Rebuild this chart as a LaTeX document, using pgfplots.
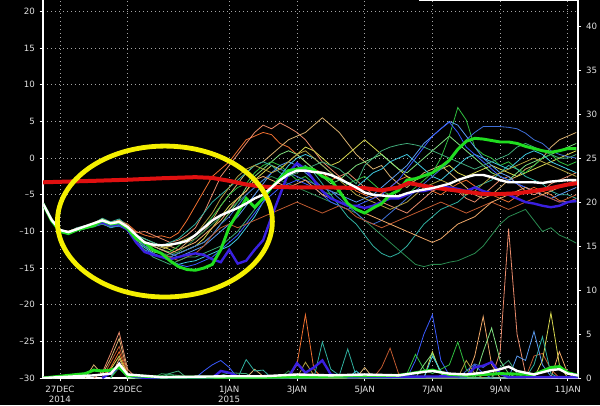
\documentclass[border=0pt]{standalone}
\usepackage{pgfplots}
\usepackage{pgfplotstable}
\pgfplotsset{compat=1.18}
\usepackage{fontspec}
\setmainfont{DejaVu Sans}
\definecolor{lab}{RGB}{225,225,225}
\definecolor{gridc}{RGB}{165,165,165}
\definecolor{c1}{HTML}{F07030}
\definecolor{c2}{HTML}{E88A6A}
\definecolor{c3}{HTML}{D8B070}
\definecolor{c4}{HTML}{D8D850}
\definecolor{c5}{HTML}{80E080}
\definecolor{c6}{HTML}{30C040}
\definecolor{c7}{HTML}{2A8A50}
\definecolor{c8}{HTML}{30B0A0}
\definecolor{c9}{HTML}{40C8E0}
\definecolor{c10}{HTML}{5A9AF0}
\definecolor{c11}{HTML}{3A5AFF}
\definecolor{c12}{HTML}{4070D8}
\definecolor{c13}{HTML}{C05A30}
\definecolor{c14}{HTML}{B0A040}
\definecolor{c15}{HTML}{40A878}
\definecolor{c16}{HTML}{F0A868}
\definecolor{thgreen}{HTML}{20DD20}
\definecolor{thblue}{HTML}{3A20E0}
\definecolor{thred}{HTML}{E01010}
\definecolor{ylw}{RGB}{245,240,0}

\pgfplotstableread[header=false]{
d -0.5 -0.25 0 0.25 0.5 0.75 1 1.25 1.5 1.75 2 2.25 2.5 2.75 3 3.25 3.5 3.75 4 4.25 4.5 4.75 5 5.25 5.5 5.75 6 6.25 6.5 6.75 7 7.25 7.5 7.75 8 8.25 8.5 8.75 9 9.25 9.5 9.75 10 10.25 10.5 10.75 11 11.25 11.5 11.75 12 12.25 12.5 12.75 13 13.25 13.5 13.75 14 14.25 14.5 14.75 15 15.25
m1 -6.2 -8.2 -9.8 -10.0 -9.6 -9.2 -9.0 -8.4 -8.8 -8.5 -9.0 -10.0 -10.5 -10.8 -10.6 -10.9 -10.2 -8.5 -6.5 -4.5 -2.5 -1.5 -0.5 1.0 2.5 3.0 3.5 3.2 2.0 1.5 0.5 -0.5 -1.5 -2.0 -3.0 -2.5 -3.5 -4.5 -5.0 -5.5 -4.8 -4.0 -3.0 -2.5 -3.5 -4.0 -4.5 -5.0 -4.2 -3.5 -3.0 -3.8 -4.5 -5.0 -5.5 -6.0 -5.2 -4.5 -4.0 -4.5 -5.0 -5.8 -6.0 -5.5
m2 -6.2 -8.3 -10.0 -10.2 -9.5 -9.3 -8.8 -8.3 -8.9 -8.4 -9.2 -10.2 -10.0 -10.5 -11.0 -11.5 -11.2 -10.5 -9.5 -7.5 -5.0 -2.5 -1.0 0.5 2.0 3.5 4.5 4.0 4.8 4.2 3.5 2.5 1.0 -0.5 -1.5 -2.5 -2.0 -3.0 -4.0 -5.0 -6.0 -6.5 -7.0 -7.5 -6.5 -5.5 -4.5 -4.0 -3.5 -4.5 -5.5 -6.0 -5.0 -4.0 -3.0 -2.5 -3.5 -4.5 -5.0 -4.5 -3.5 -3.0 -2.5 -2.0
m3 -6.2 -8.4 -10.1 -10.3 -9.8 -9.6 -9.3 -8.8 -9.2 -8.9 -9.5 -11.0 -11.5 -12.0 -12.5 -12.0 -12.5 -11.5 -11.0 -10.0 -8.5 -6.5 -5.0 -3.5 -2.0 -1.0 -0.5 0.5 1.5 2.5 3.0 3.5 4.5 5.5 4.5 3.5 2.0 0.5 -0.5 -1.5 -1.0 -2.5 -3.5 -4.0 -3.0 -2.0 -1.5 -1.0 -2.0 -3.0 -4.0 -5.0 -5.5 -5.0 -4.0 -3.0 -2.5 -1.5 -1.0 0.0 1.5 2.5 3.0 3.5
m4 -6.2 -8.3 -9.9 -10.0 -9.6 -9.4 -9.0 -8.5 -8.8 -8.6 -9.3 -10.5 -11.0 -11.5 -12.0 -12.5 -13.0 -12.5 -12.0 -11.0 -9.5 -8.0 -6.5 -5.5 -4.5 -3.0 -2.0 -1.0 -1.5 -0.5 0.5 1.5 1.0 0.0 -1.0 -0.5 0.5 1.5 2.5 1.5 0.5 -0.5 -1.5 -2.5 -3.0 -2.5 -2.0 -1.5 -1.0 -2.0 -2.5 -2.0 -1.5 -1.0 -1.5 -2.0 -2.5 -2.0 -1.5 -1.0 -0.5 0.0 0.5 1.0
m5 -6.2 -8.4 -10.0 -10.2 -9.8 -9.5 -9.2 -8.9 -9.3 -9.0 -9.6 -11.2 -12.0 -12.8 -13.0 -13.5 -13.0 -12.5 -12.0 -11.5 -10.5 -9.0 -7.5 -6.0 -4.0 -2.5 -1.5 -0.5 0.5 1.0 0.5 -0.5 -1.5 -2.5 -3.5 -3.0 -2.0 -1.0 -0.5 0.0 0.5 -0.5 -1.5 -2.0 -1.0 0.0 1.0 2.0 3.0 2.0 1.0 0.0 -1.0 -2.0 -2.5 -3.0 -2.0 -1.0 -0.5 0.0 0.5 1.0 1.5 2.0
m6 -6.2 -8.3 -9.8 -10.1 -9.7 -9.3 -9.1 -8.7 -9.1 -8.8 -9.4 -11.0 -11.8 -12.0 -12.5 -12.8 -12.0 -11.0 -10.5 -9.5 -8.0 -6.5 -5.0 -4.0 -3.5 -2.0 -1.0 -0.5 -1.0 -2.0 -3.0 -2.5 -3.5 -4.5 -5.0 -4.5 -3.5 -3.0 -2.5 -3.5 -4.5 -5.0 -5.5 -5.0 -4.0 -3.0 -2.0 0.0 3.0 6.9 5.2 1.5 0.5 0.0 -1.0 -0.5 -1.5 -2.0 -1.0 0.0 0.5 -0.5 -1.0 -0.5
m7 -6.2 -8.4 -10.1 -10.2 -9.9 -9.6 -9.4 -9.0 -9.4 -9.1 -9.5 -11.5 -12.0 -12.5 -13.0 -13.2 -12.8 -12.0 -11.0 -10.0 -9.0 -8.0 -7.0 -6.0 -5.0 -4.0 -3.0 -2.5 -3.0 -3.5 -4.0 -4.5 -5.0 -5.5 -6.0 -6.5 -7.0 -7.5 -8.5 -9.5 -10.5 -11.5 -12.5 -13.5 -14.5 -14.8 -14.5 -14.5 -14.2 -14.0 -13.5 -13.0 -12.0 -10.5 -9.0 -8.0 -7.5 -7.0 -8.5 -10.0 -9.5 -10.5 -11.0 -11.6
m8 -6.2 -8.2 -9.8 -10.0 -9.5 -9.2 -8.9 -8.2 -8.7 -8.3 -9.2 -10.5 -11.0 -11.5 -12.0 -11.5 -11.0 -10.0 -9.0 -7.5 -6.0 -5.0 -4.0 -3.0 -2.0 -1.0 -0.5 -1.0 -2.0 -2.5 -1.5 -1.0 -2.0 -3.5 -5.0 -6.5 -8.0 -9.0 -10.5 -12.0 -13.0 -13.5 -13.0 -12.0 -10.5 -9.0 -8.0 -7.0 -6.5 -6.0 -5.0 -4.0 -3.5 -3.0 -2.0 -1.0 -1.5 -2.5 -3.0 -3.5 -4.5 -5.0 -5.0 -5.5
m9 -6.2 -8.4 -10.0 -10.3 -9.9 -9.6 -9.3 -8.9 -9.5 -9.2 -9.7 -11.5 -12.2 -13.0 -13.5 -14.0 -14.5 -14.2 -14.0 -13.5 -13.0 -12.5 -12.0 -11.0 -9.5 -8.0 -6.0 -4.0 -2.5 -1.0 0.0 0.5 0.0 -1.0 -2.0 -3.0 -3.5 -4.0 -3.0 -2.0 -1.5 -0.5 0.0 0.5 -0.5 -1.5 -2.5 -3.0 -2.0 -1.0 0.0 0.5 0.0 -0.5 -1.0 -1.5 -0.5 0.5 1.0 0.5 -0.5 -1.0 -1.5 -2.0
m10 -6.2 -8.3 -9.9 -10.1 -9.7 -9.4 -9.1 -8.6 -9.0 -8.8 -9.4 -10.8 -11.5 -12.0 -12.5 -13.0 -13.5 -13.0 -12.5 -12.0 -11.0 -10.0 -9.0 -8.0 -6.5 -5.0 -3.5 -2.0 -1.0 -0.5 -1.0 -2.0 -3.0 -4.0 -4.5 -5.0 -5.5 -6.0 -5.5 -5.0 -4.0 -3.0 -2.0 -1.0 0.5 2.0 3.0 4.0 5.0 4.5 3.0 1.5 0.0 -1.0 -2.0 -2.5 -3.5 -4.0 -4.5 -5.0 -5.5 -5.0 -4.5 -4.0
m11 -6.2 -8.4 -10.0 -10.2 -9.8 -9.5 -9.3 -9.0 -9.4 -9.3 -9.8 -11.5 -12.5 -13.0 -13.5 -14.0 -14.5 -14.8 -14.5 -14.0 -13.5 -12.5 -11.5 -10.5 -9.0 -7.5 -6.0 -5.0 -4.0 -3.5 -3.0 -3.5 -4.0 -5.0 -6.0 -6.5 -7.0 -6.5 -6.0 -5.5 -5.0 -4.0 -3.0 -1.5 0.0 1.5 3.0 4.0 4.9 3.5 1.5 0.5 -0.5 -1.5 -2.5 -3.0 -3.5 -4.0 -4.5 -5.0 -5.5 -6.0 -6.0 -6.0
m12 -6.2 -8.3 -9.9 -10.1 -9.7 -9.4 -9.2 -8.8 -9.2 -9.0 -9.6 -11.0 -12.0 -12.5 -13.0 -13.5 -13.0 -12.5 -12.0 -11.5 -10.5 -9.0 -8.0 -6.5 -5.0 -4.0 -3.0 -2.0 -1.5 -2.0 -2.5 -3.0 -3.5 -4.0 -4.5 -5.5 -6.5 -7.5 -8.5 -9.0 -8.5 -7.5 -6.5 -5.5 -4.5 -3.5 -2.5 -1.5 -0.5 1.0 2.5 3.5 4.3 4.3 4.3 4.2 4.0 3.4 2.5 2.0 1.0 0.5 0.2 0.0
m13 -6.2 -8.2 -9.8 -10.0 -9.6 -9.3 -9.0 -8.5 -8.9 -8.6 -9.3 -10.8 -11.5 -12.5 -13.0 -13.5 -14.0 -13.5 -13.0 -12.0 -10.5 -9.5 -9.0 -9.5 -9.0 -8.5 -8.0 -7.5 -7.0 -6.5 -6.0 -6.5 -7.0 -7.5 -7.0 -6.5 -7.0 -8.0 -8.5 -9.0 -9.5 -9.0 -8.5 -8.0 -7.5 -7.0 -6.5 -6.0 -6.5 -7.0 -7.5 -7.0 -6.5 -6.0 -6.5 -7.0 -6.5 -6.0 -5.5 -5.0 -5.5 -6.0 -5.5 -5.0
m14 -6.2 -8.3 -10.0 -10.1 -9.7 -9.4 -9.1 -8.6 -9.0 -8.7 -9.5 -11.0 -11.5 -11.8 -12.2 -12.0 -11.5 -11.0 -10.5 -9.0 -7.5 -5.5 -4.0 -2.5 -1.5 -1.0 -1.5 -2.0 -1.5 -0.5 0.5 1.0 0.0 -1.0 -2.0 -3.0 -4.0 -5.0 -5.5 -6.0 -6.5 -7.0 -6.5 -6.0 -5.0 -4.0 -3.5 -3.0 -3.5 -4.5 -5.0 -4.5 -3.5 -2.5 -2.0 -1.5 -1.0 -0.5 0.0 -0.5 -1.0 -1.5 -2.0 -2.5
m15 -6.2 -8.4 -10.1 -10.3 -9.9 -9.6 -9.3 -9.0 -9.4 -9.2 -9.5 -11.5 -12.5 -13.5 -14.0 -14.5 -14.0 -13.5 -13.5 -13.0 -12.5 -12.0 -11.0 -10.0 -8.5 -7.0 -5.5 -4.0 -3.0 -2.5 -2.0 -1.5 -1.0 -0.5 -1.0 -1.5 -2.5 -3.5 -1.0 0.0 1.0 1.5 1.8 2.0 1.8 1.5 1.0 0.5 0.0 -0.5 -1.0 -1.5 -1.0 -0.5 0.0 0.5 1.5 2.0 1.5 1.0 0.5 0.0 0.0 0.5
m16 -6.2 -8.2 -9.8 -10.0 -9.6 -9.3 -8.9 -8.3 -8.8 -8.5 -9.2 -10.5 -11.5 -12.0 -12.5 -13.0 -12.5 -12.0 -11.5 -10.5 -9.5 -8.5 -7.0 -5.5 -4.5 -3.0 -2.5 -3.0 -3.5 -4.0 -3.5 -3.0 -4.0 -5.0 -5.5 -6.0 -6.5 -7.0 -7.5 -8.0 -8.5 -9.0 -9.5 -10.0 -10.5 -11.0 -11.5 -11.0 -10.0 -9.0 -8.5 -8.0 -7.0 -6.0 -5.5 -5.0 -4.5 -4.0 -4.5 -5.0 -4.5 -4.0 -3.5 -3.0
tg -6.2 -8.5 -10.0 -10.3 -9.8 -9.5 -9.2 -8.5 -9.0 -8.8 -9.6 -11.0 -11.5 -12.5 -13.0 -14.0 -14.8 -15.2 -15.3 -15.0 -14.5 -12.5 -9.4 -7.5 -5.5 -6.7 -5.5 -4.0 -2.8 -1.7 -1.5 -1.3 -1.6 -2.5 -3.0 -4.5 -6.2 -7.0 -7.5 -6.8 -6.2 -5.0 -4.4 -3.0 -2.8 -2.4 -2.0 -1.2 -0.3 1.2 2.3 2.7 2.6 2.4 2.2 2.2 2.0 1.6 1.3 1.0 0.8 1.0 1.3 1.3
tb -6.2 -8.4 -10.0 -10.2 -9.8 -9.5 -9.2 -8.8 -9.2 -9.0 -9.8 -11.5 -12.8 -13.2 -13.5 -13.8 -13.5 -13.2 -13.0 -13.2 -13.8 -14.2 -12.5 -14.4 -14.0 -12.5 -11.2 -8.0 -5.0 -2.0 -0.7 -1.5 -3.0 -4.5 -5.5 -6.0 -6.5 -6.5 -6.8 -6.5 -6.0 -5.5 -5.5 -5.0 -4.5 -4.5 -4.2 -4.0 -4.0 -4.2 -4.5 -4.0 -4.5 -4.8 -4.8 -5.0 -5.5 -6.0 -6.2 -6.5 -6.7 -6.5 -6.0 -5.8
tw -6.2 -8.4 -9.8 -10.1 -9.7 -9.3 -8.9 -8.5 -8.9 -8.7 -9.4 -10.5 -11.5 -11.8 -11.9 -11.8 -11.6 -11.3 -10.5 -9.5 -8.5 -7.8 -7.3 -6.8 -6.2 -5.5 -5.0 -4.0 -3.0 -2.2 -1.7 -1.7 -1.9 -2.0 -2.3 -2.8 -3.4 -4.0 -4.7 -5.0 -5.1 -5.2 -5.2 -4.8 -4.5 -4.3 -4.1 -3.8 -3.5 -3.0 -2.6 -2.3 -2.3 -2.6 -3.0 -3.3 -3.3 -3.3 -3.3 -3.4 -3.2 -3.1 -3.0 -3.0
}\rawtab
\pgfplotstabletranspose[colnames from=0]\ens\rawtab

\begin{document}
\begin{tikzpicture}
\path[use as bounding box, fill=black] (0,0) rectangle (450pt,303.75pt);
\pgfplotsset{
  myax/.style={
    at={(32.25pt,20.25pt)}, anchor=south west,
    width=401.25pt, height=283.5pt, scale only axis,
    xmin=-0.5, xmax=15.3,
    axis line style={white, line width=0.9pt, -},
    tick style={white, line width=0.6pt},
    major tick length=2.6pt, tick align=outside,
    ticklabel style={text=lab, font=\fontsize{6.5}{7.6}\selectfont},
    /pgf/number format/assume math mode=true,
  },
}
\begin{axis}[myax,
  ymin=-30, ymax=21.57,
  axis x line*=bottom, axis y line*=left,
  xtick={0,2,5,7,9,11,13,15},
  xticklabels={{27DEC\\2014},{29DEC},{1JAN\\2015},{3JAN},{5JAN},{7JAN},{9JAN},{11JAN}},
  x tick label style={align=center},
  ytick={-30,-25,-20,-15,-10,-5,0,5,10,15,20},
  yticklabels={\textendash30,\textendash25,\textendash20,\textendash15,\textendash10,\textendash5,0,5,10,15,20},
  grid=major,
  grid style={gridc, line width=0.55pt, dash pattern=on 0.8pt off 2.2pt},
]
\foreach \k in {1,...,16}{
  \edef\tmp{\noexpand\addplot[c\k, line width=0.6pt] table[x=d, y=m\k] {\noexpand\ens};}
  \tmp
}
\addplot[thblue, line width=1.8pt] table[x=d, y=tb] {\ens};
\addplot[thgreen, line width=2.2pt] table[x=d, y=tg] {\ens};
\addplot[thred, line width=3pt] coordinates {(-0.5,-3.3) (1,-3.1) (2,-2.95) (3,-2.75) (4,-2.6) (4.5,-2.7) (5,-3.1) (5.5,-3.6) (6,-3.9) (7,-4.0) (8,-4.0) (9,-4.1) (9.5,-4.4) (10,-4.0) (10.3,-3.4) (11,-4.0) (12,-4.6) (12.5,-4.9) (13,-4.9) (13.5,-4.8) (14,-4.5) (14.5,-4.1) (15,-3.6) (15.3,-3.4)};
\addplot[white, line width=1.8pt] table[x=d, y=tw] {\ens};
\end{axis}

\begin{axis}[myax,
  ymin=0, ymax=43.05,
  axis x line=none, axis y line*=right,
  ytick={0,5,10,15,20,25,30,35,40},
]
\addplot[c1, line width=0.6pt] coordinates {(1.25,0)(1.5,1.2)(1.75,3.0)(2,0.4)(2.25,0)(6.75,0)(7,1.5)(7.25,7.2)(7.5,1.0)(7.75,0)};
\addplot[c2, line width=0.6pt] coordinates {(1,0)(1.25,0.6)(1.5,2.8)(1.75,5.2)(2,1.0)(2.25,0)(12.75,0)(13,3)(13.25,17)(13.5,5)(13.75,0.5)(14,0)};
\addplot[c3, line width=0.6pt] coordinates {(0.75,0)(1,1.5)(1.25,0.4)(1.5,2.2)(1.75,4.5)(2,0.6)(2.25,0)(5.5,0)(5.75,1.0)(6,0.2)(6.25,0)(8.75,0)(9,1.2)(9.25,0)};
\addplot[c13, line width=0.6pt] coordinates {(1.25,0)(1.5,1.8)(1.75,3.6)(2,0.5)(2.25,0)(9.25,0)(9.5,1.2)(9.75,3.4)(10,0.5)(10.25,0)(13.75,0)(14,2.5)(14.25,2.8)(14.5,1.0)(14.75,0)};
\addplot[c16, line width=0.6pt] coordinates {(1.5,0)(1.75,2.2)(2,0.3)(2.25,0)(12,0)(12.25,2.5)(12.5,7.0)(12.75,1.5)(13,0)(14.5,0)(14.75,3.0)(15,0.5)(15.25,0)};
\addplot[c4, line width=0.6pt] coordinates {(1.25,0)(1.5,1.0)(1.75,2.5)(2,0.4)(2.25,0)(10.75,0)(11,3.0)(11.25,0.5)(11.5,0)(14,0)(14.25,2.0)(14.5,7.4)(14.75,1.5)(15,0)};
\addplot[c8, line width=0.6pt] coordinates {(1.5,0)(1.75,1.5)(2,0.3)(2.25,0)(3,0)(3.25,0.5)(3.5,0)(5.25,0)(5.5,2.1)(5.75,0.8)(6,0.9)(6.25,0)(7.5,0)(7.75,4.1)(8,1.0)(8.25,0.3)(8.5,3.3)(8.75,0.2)(9,0)(13.75,0)(14,1.5)(14.25,4.7)(14.5,0.5)(14.75,0)};
\addplot[c11, line width=0.6pt] coordinates {(4,0)(4.25,0.8)(4.5,1.5)(4.75,2.0)(5,1.2)(5.25,0)(10.25,0)(10.5,2)(10.75,5.0)(11,7.2)(11.25,2.0)(11.5,0.3)(11.75,0)(12,0)(12.25,1.5)(12.5,0.5)(12.75,0)};
\addplot[c10, line width=0.6pt] coordinates {(1.5,0)(1.75,1.8)(2,0.2)(2.25,0)(13.25,0)(13.5,2.5)(13.75,2.0)(14,5.3)(14.25,1.5)(14.5,0.2)(14.75,0)};
\addplot[c6, line width=0.6pt] coordinates {(1.5,0)(1.75,1.2)(2,0)(9.5,0)(10.25,0.5)(10.5,2.7)(10.75,1.0)(11,0.5)(11.5,1.5)(11.75,4.1)(12,1.0)(12.25,0)};
\addplot[c5, line width=0.6pt] coordinates {(10.5,0)(10.75,1.5)(11,2.8)(11.25,0.5)(11.5,0)(12.25,0)(12.5,3.0)(12.75,5.7)(13,2.0)(13.25,0.5)(13.5,0)};
\addplot[c15, line width=0.6pt] coordinates {(2.75,0)(3.5,0.8)(3.75,0)(4.5,0)(5,0.6)(5.5,0.5)(5.75,0)(12.75,0)(13,1.2)(13.25,2.0)(13.5,0.5)(13.75,0)};
\addplot[c7, line width=0.6pt] coordinates {(2.75,0)(3,0.5)(3.5,0.3)(3.75,0)(6.5,0)(6.75,0.8)(7,0)};
\addplot[c12, line width=0.6pt] coordinates {(11.75,0)(12.25,1.6)(12.5,1.2)(12.75,1.9)(13,0.4)(13.25,0)};
\addplot[c9, line width=0.6pt] coordinates {(8.5,0)(8.75,0.8)(9,0)(10.75,0)(11,2.5)(11.25,0.8)(11.5,0)};
\addplot[c14, line width=0.6pt] coordinates {(7,0)(7.25,1.8)(7.5,0.3)(7.75,0)(11.75,0)(12,2.0)(12.25,0.5)(12.5,0)};
\addplot[thblue, line width=1.8pt] coordinates {(1.25,0)(1.5,0.6)(1.75,1.2)(2,0.3)(2.5,0)(4.5,0)(4.75,0.8)(5,0.6)(5.25,0.2)(6.75,0.1)(7,1.7)(7.25,0.6)(7.5,1.2)(7.75,2.0)(8,0.4)(8.5,0.1)(12,0.2)(12.25,1.2)(12.5,1.4)(12.75,1.8)(13,0.5)(13.25,0.1)(15.3,0.1)};
\addplot[thgreen, line width=2.2pt] coordinates {(-0.5,0)(0.75,0.5)(1,0.9)(1.25,0.8)(1.5,0.9)(1.75,1.2)(2,0.3)(3,0.1)(6,0.1)(8,0.2)(10,0.3)(10.5,0.6)(11,0.9)(11.5,0.4)(12,0.3)(13,0.5)(14,0.4)(14.5,1.2)(14.75,1.3)(15,0.6)(15.3,0.3)};
\addplot[white, line width=1.8pt] coordinates {(-0.5,0)(1,0.3)(1.5,0.5)(1.75,1.6)(2,0.4)(3,0.1)(5,0.2)(6,0.2)(7,0.4)(8,0.3)(9,0.4)(10,0.3)(10.75,0.7)(11,0.8)(11.5,0.5)(12,0.4)(12.5,0.6)(13,1.0)(13.25,1.3)(13.5,0.8)(14,0.4)(14.5,0.9)(14.75,1.0)(15,0.5)(15.3,0.3)};
\draw[ylw, line width=3.6pt] (axis cs:3.1,17.82) ellipse [x radius=80.6pt, y radius=56.6pt];
\end{axis}
\draw[white, line width=0.8pt] (315pt,303.75pt) -- (315pt,303.1pt) -- (433.5pt,303.1pt);
\end{tikzpicture}
\end{document}
